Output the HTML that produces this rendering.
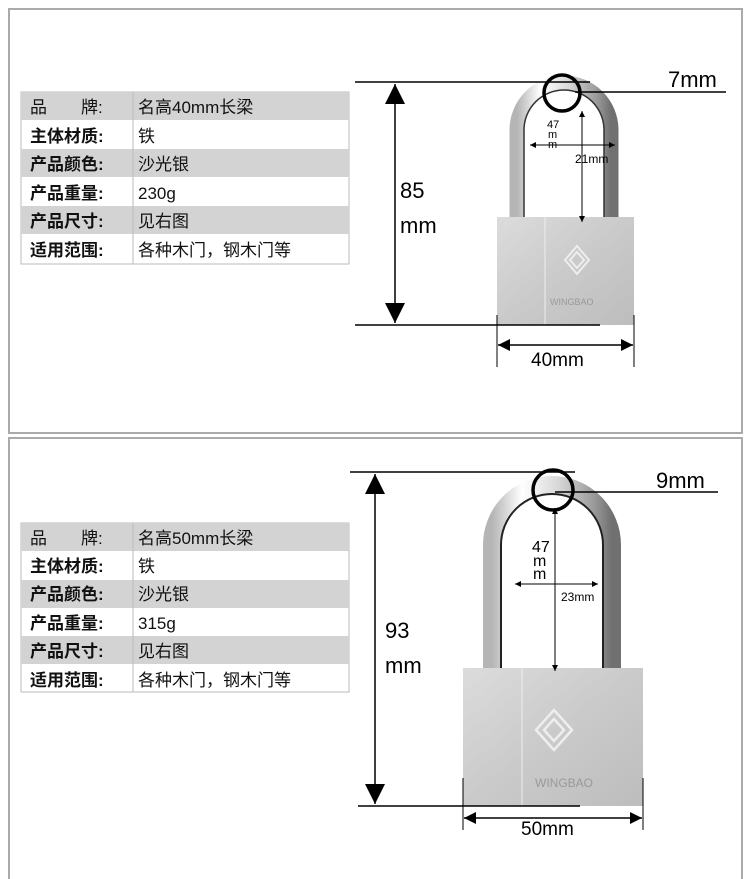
<!DOCTYPE html>
<html><head><meta charset="utf-8"><style>
body{margin:0;background:#fff;}
svg{display:block;font-family:"Liberation Sans","Noto Sans CJK SC",sans-serif;}
</style></head><body>
<svg width="750" height="879" viewBox="0 0 750 879" xmlns="http://www.w3.org/2000/svg">
<defs>
<linearGradient id="sh" x1="0" x2="1" y1="0" y2="0">
<stop offset="0" stop-color="#b5b5b5"/><stop offset="0.25" stop-color="#ffffff"/><stop offset="0.55" stop-color="#d8d8d8"/><stop offset="0.85" stop-color="#9a9a9a"/><stop offset="1" stop-color="#707070"/>
</linearGradient>
<linearGradient id="bd" x1="0" x2="1" y1="0" y2="1">
<stop offset="0" stop-color="#dcdcdc"/><stop offset="0.5" stop-color="#cacaca"/><stop offset="1" stop-color="#bdbdbd"/>
</linearGradient>
<marker id="a" viewBox="0 0 10 10" refX="10" refY="5" markerWidth="12" markerHeight="12" markerUnits="userSpaceOnUse" orient="auto-start-reverse"><path d="M0,0L10,5L0,10z" fill="#000"/></marker>
<marker id="B" viewBox="0 0 10 10" refX="10" refY="5" markerWidth="20" markerHeight="20" markerUnits="userSpaceOnUse" orient="auto-start-reverse"><path d="M0,0L10,5L0,10z" fill="#000"/></marker>
<marker id="A" viewBox="0 0 10 10" refX="10" refY="5" markerWidth="6" markerHeight="6" markerUnits="userSpaceOnUse" orient="auto-start-reverse"><path d="M0,0L10,5L0,10z" fill="#000"/></marker>
</defs>
<rect x="0" y="0" width="750" height="879" fill="#fff"/>
<rect x="9" y="9" width="733" height="424" fill="none" stroke="#aaa" stroke-width="2"/>
<rect x="9" y="438" width="733" height="450" fill="none" stroke="#aaa" stroke-width="2"/>

<g font-size="17" fill="#111">
<rect x="21" y="92" width="328" height="172" fill="#fff" stroke="#bbb"/>
<rect x="21" y="92" width="328" height="28" fill="#d3d3d3"/>
<rect x="21" y="149" width="328" height="28" fill="#d3d3d3"/>
<rect x="21" y="206" width="328" height="28" fill="#d3d3d3"/>
<line x1="133" y1="92" x2="133" y2="264" stroke="#bbb"/>
<text x="30" y="113">品　　牌:</text><text x="138" y="113">名高40mm长梁</text>
<text x="30" y="142" font-weight="bold">主体材质:</text><text x="138" y="142">铁</text>
<text x="30" y="170" font-weight="bold">产品颜色:</text><text x="138" y="170">沙光银</text>
<text x="30" y="199" font-weight="bold">产品重量:</text><text x="138" y="199">230g</text>
<text x="30" y="227" font-weight="bold">产品尺寸:</text><text x="138" y="227">见右图</text>
<text x="30" y="256" font-weight="bold">适用范围:</text><text x="138" y="256">各种木门，钢木门等</text>
</g>

<g font-size="17" fill="#111">
<rect x="21" y="523" width="328" height="169" fill="#fff" stroke="#bbb"/>
<rect x="21" y="523" width="328" height="28" fill="#d3d3d3"/>
<rect x="21" y="580" width="328" height="28" fill="#d3d3d3"/>
<rect x="21" y="636" width="328" height="28" fill="#d3d3d3"/>
<line x1="133" y1="523" x2="133" y2="692" stroke="#bbb"/>
<text x="30" y="544">品　　牌:</text><text x="138" y="544">名高50mm长梁</text>
<text x="30" y="572" font-weight="bold">主体材质:</text><text x="138" y="572">铁</text>
<text x="30" y="600" font-weight="bold">产品颜色:</text><text x="138" y="600">沙光银</text>
<text x="30" y="629" font-weight="bold">产品重量:</text><text x="138" y="629">315g</text>
<text x="30" y="657" font-weight="bold">产品尺寸:</text><text x="138" y="657">见右图</text>
<text x="30" y="686" font-weight="bold">适用范围:</text><text x="138" y="686">各种木门，钢木门等</text>
</g>

<!-- lock 1 -->
<path d="M517,220 V130 A47,47 0 0 1 611,130 V220" fill="none" stroke="url(#sh)" stroke-width="15"/>
<path d="M524,220 V130 A40,40 0 0 1 604,130 V220" fill="none" stroke="#333" stroke-width="1.5"/>
<rect x="497" y="217" width="137" height="108" fill="url(#bd)"/>
<line x1="545" y1="217" x2="545" y2="325" stroke="#eee"/>
<text x="550" y="305" font-size="9" fill="#999">WINGBAO</text>
<path d="M565,260 l12,-14 l12,14 l-12,14z M570,260 l7,-8 l7,8 l-7,8z" fill="none" stroke="#eee" stroke-width="2"/>
<line x1="355" y1="82" x2="590" y2="82" stroke="#000" stroke-width="1.5"/>
<line x1="575" y1="92" x2="726" y2="92" stroke="#000" stroke-width="1.5"/>
<text x="668" y="87" font-size="22">7mm</text>
<circle cx="562" cy="93" r="18" fill="none" stroke="#000" stroke-width="3.5"/>
<line x1="395" y1="84" x2="395" y2="323" stroke="#000" stroke-width="1.5" marker-start="url(#B)" marker-end="url(#B)"/>
<text x="400" y="198" font-size="22">85</text>
<text x="400" y="233" font-size="22">mm</text>
<line x1="355" y1="325" x2="600" y2="325" stroke="#000" stroke-width="1.5"/>
<line x1="497" y1="315" x2="497" y2="367" stroke="#000"/>
<line x1="634" y1="315" x2="634" y2="367" stroke="#000"/>
<line x1="498" y1="345" x2="633" y2="345" stroke="#000" stroke-width="1.5" marker-start="url(#a)" marker-end="url(#a)"/>
<text x="531" y="366" font-size="19">40mm</text>
<line x1="582" y1="111" x2="582" y2="222" stroke="#000" marker-start="url(#A)" marker-end="url(#A)"/>
<line x1="530" y1="145" x2="615" y2="145" stroke="#000" marker-start="url(#A)" marker-end="url(#A)"/>
<text x="547" y="128" font-size="11">47</text>
<text x="548" y="138" font-size="11">m</text>
<text x="548" y="148" font-size="11">m</text>
<text x="575" y="163" font-size="12">21mm</text>

<!-- lock 2 -->
<path d="M492,672 V545 A60,60 0 0 1 612,545 V672" fill="none" stroke="url(#sh)" stroke-width="18"/>
<path d="M501,672 V545 A51,51 0 0 1 603,545 V672" fill="none" stroke="#222" stroke-width="2"/>
<rect x="463" y="668" width="180" height="138" fill="url(#bd)"/>
<line x1="522" y1="668" x2="522" y2="806" stroke="#eee"/>
<text x="535" y="787" font-size="12" fill="#999">WINGBAO</text>
<path d="M536,730 l18,-20 l18,20 l-18,20z M544,730 l10,-11 l10,11 l-10,11z" fill="none" stroke="#eee" stroke-width="2.5"/>
<line x1="350" y1="472" x2="575" y2="472" stroke="#000" stroke-width="1.5"/>
<line x1="555" y1="492" x2="718" y2="492" stroke="#000" stroke-width="1.5"/>
<text x="656" y="488" font-size="22">9mm</text>
<circle cx="553" cy="490" r="20" fill="none" stroke="#000" stroke-width="3.5"/>
<line x1="375" y1="474" x2="375" y2="804" stroke="#000" stroke-width="1.5" marker-start="url(#B)" marker-end="url(#B)"/>
<text x="385" y="638" font-size="22">93</text>
<text x="385" y="673" font-size="22">mm</text>
<line x1="358" y1="806" x2="580" y2="806" stroke="#000" stroke-width="1.5"/>
<line x1="463" y1="778" x2="463" y2="830" stroke="#000"/>
<line x1="643" y1="778" x2="643" y2="830" stroke="#000"/>
<line x1="464" y1="818" x2="642" y2="818" stroke="#000" stroke-width="1.5" marker-start="url(#a)" marker-end="url(#a)"/>
<text x="521" y="835" font-size="19">50mm</text>
<line x1="555" y1="508" x2="555" y2="671" stroke="#000" marker-start="url(#A)" marker-end="url(#A)"/>
<line x1="515" y1="584" x2="598" y2="584" stroke="#000" marker-start="url(#A)" marker-end="url(#A)"/>
<text x="532" y="552" font-size="16">47</text>
<text x="533" y="566" font-size="16">m</text>
<text x="533" y="579" font-size="16">m</text>
<text x="561" y="601" font-size="12">23mm</text>
</svg>
</body></html>
